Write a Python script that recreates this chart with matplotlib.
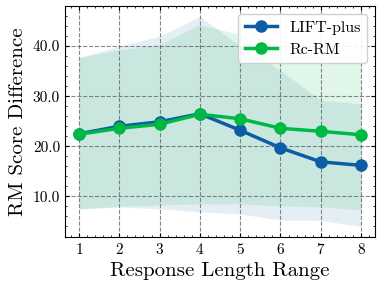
import numpy as np
import matplotlib
matplotlib.use('Agg')
import matplotlib.pyplot as plt
from matplotlib.ticker import AutoMinorLocator, FormatStrFormatter

## Data
x = [1, 2, 3, 4, 5, 6, 7, 8]
lift_mean = [22.5, 24.0, 24.9, 26.5, 23.2, 19.7, 16.9, 16.2]
lift_upper = [37.7, 40.0, 42.0, 45.9, 40.1, 35.2, 29.2, 28.5]
lift_lower = [7.5, 7.9, 7.5, 6.9, 6.5, 5.3, 5.2, 4.0]
rc_mean = [22.4, 23.6, 24.4, 26.4, 25.5, 23.6, 23.0, 22.3]
rc_upper = [37.7, 39.3, 40.3, 44.3, 42.3, 40.5, 39.0, 38.0]
rc_lower = [7.5, 8.0, 8.3, 8.5, 8.5, 8.1, 7.9, 7.3]

## Style (science-like)
plt.rcParams['font.family'] = 'cmr10'
plt.rcParams['mathtext.fontset'] = 'cm'
plt.rcParams['axes.formatter.use_mathtext'] = True
plt.rcParams['xtick.direction'] = 'in'
plt.rcParams['ytick.direction'] = 'in'
plt.rcParams['xtick.top'] = True
plt.rcParams['ytick.right'] = True
plt.rcParams['xtick.major.size'] = 3
plt.rcParams['ytick.major.size'] = 3
plt.rcParams['xtick.minor.size'] = 1.5
plt.rcParams['ytick.minor.size'] = 1.5
plt.rcParams['axes.linewidth'] = 0.8

blue = '#0C5DA5'
green = '#00B945'

fig = plt.figure(figsize=(3.82, 2.89), dpi=100)
ax = fig.add_axes([0.170, 0.180, 0.812, 0.799])

ax.fill_between(x, lift_lower, lift_upper, color=blue, alpha=0.1, linewidth=0)
ax.fill_between(x, rc_lower, rc_upper, color=green, alpha=0.12, linewidth=0)
ax.plot(x, lift_mean, color=blue, marker='o', linewidth=2.5, markersize=8, label='LIFT-plus')
ax.plot(x, rc_mean, color=green, marker='o', linewidth=2.5, markersize=8, label='Rc-RM')

ax.set_xticks(x)
ax.set_yticks([10, 20, 30, 40])
ax.yaxis.set_major_formatter(FormatStrFormatter('%.1f'))
ax.xaxis.set_minor_locator(AutoMinorLocator())
ax.yaxis.set_minor_locator(AutoMinorLocator())
ax.tick_params(labelsize=11)
ax.grid(True, which='major', linestyle='--', color='#555555', linewidth=0.8, alpha=0.7)

ax.set_xlabel('Response Length Range', fontsize=15)
ax.set_ylabel('RM Score Difference', fontsize=15)
ax.legend(loc='upper right', fontsize=11.5, fancybox=True, framealpha=0.9)

fig.savefig('out.png', dpi=100)
